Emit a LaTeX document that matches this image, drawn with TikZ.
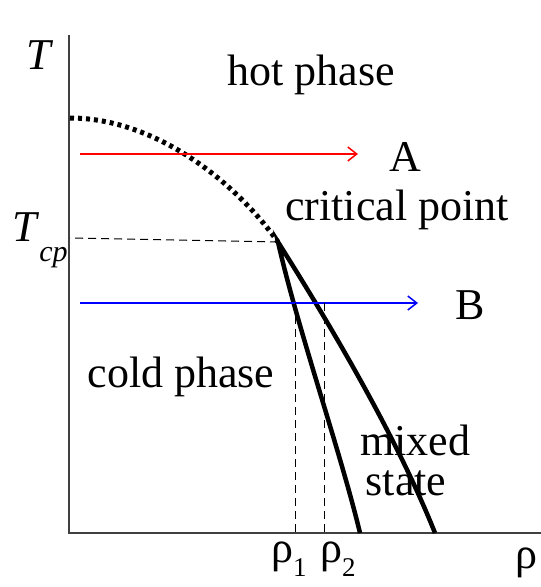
\documentclass[tikz,border=0pt]{standalone}
\usepackage{fontspec}
\setmainfont{Liberation Serif}
\usetikzlibrary{arrows.meta}
\begin{document}
\begin{tikzpicture}[x=1pt,y=-1pt, every node/.style={font=\fontsize{44}{48}\selectfont,inner sep=0pt},
  axis/.style={line width=2pt,black!75},
  phase/.style={line width=4.5pt,black},
  guide/.style={dashed,line width=1pt,dash pattern=on 8pt off 5pt},
  path/.style={line width=1.3pt,-{Straight Barb[length=9pt,width=14pt,line width=1.5pt]}}]
\useasboundingbox (0,0) rectangle (541,587);
% axes
\coordinate (o) at (69,533);
\coordinate (ytop) at (69,35);
\coordinate (xend) at (541,533);
\draw[axis] (ytop) -- (o) -- (xend);
\node (tlab) at (40,55) {\textit{T}};
\node (tcp) at (40,240) {\textit{T}\raisebox{-0.45em}{\fontsize{30}{30}\selectfont\textit{cp}}};
\node[anchor=base] (rholab) at (526,568) {ρ};
% coexistence line and critical point
\coordinate (cp) at (278,242);
\coordinate (tc) at (70,118);
\draw[line width=5pt,dash pattern=on 4pt off 4pt] (tc) .. controls (150,118) and (230,175) .. (cp);
\draw[guide] (cp) -- (70,238);
\draw[phase,line join=miter] (360,533) .. controls (340,450) and (298,330) .. (cp) .. controls (305,285) and (390,420) .. (435,533);
% paths A and B
\coordinate (a0) at (80,154);
\coordinate (a1) at (358,154);
\draw[path,red] (a0) -- (a1);
\coordinate (b0) at (80,303);
\coordinate (b1) at (418,303);
\draw[path,blue] (b0) -- (b1);
\node (alab) at (405,157) {A};
\node (blab) at (470,305) {B};
% densities
\coordinate (r1) at (295,303);
\coordinate (r2) at (324,303);
\draw[guide] (r1) -- (295,533);
\draw[guide] (r2) -- (324,533);
\node[anchor=base west] (rho1) at (271,562) {ρ\raisebox{-0.33em}{\fontsize{27}{27}\selectfont 1}};
\node[anchor=base west] (rho2) at (320,562) {ρ\raisebox{-0.33em}{\fontsize{27}{27}\selectfont 2}};
% labels
\node (hot) at (311,75) {hot phase};
\node (crit) at (397,210) {critical point};
\node (cold) at (181,377) {cold phase};
\node[anchor=base] (mixed) at (415,455) {mixed};
\node[anchor=base] (state) at (406,495) {state};
\end{tikzpicture}
\end{document}
